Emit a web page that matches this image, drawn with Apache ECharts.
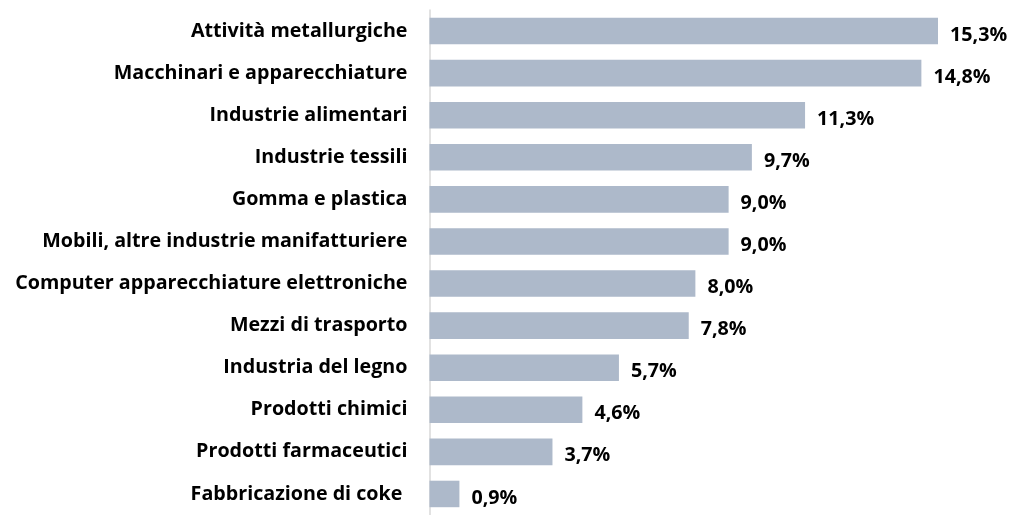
<!DOCTYPE html>
<html>
<head>
<meta charset="utf-8">
<script src="https://cdn.jsdelivr.net/npm/echarts@6/dist/echarts.min.js"></script>
<style>
  html, body { margin: 0; padding: 0; background: #fff; }
  #chart { width: 1012px; height: 515px; }
</style>
</head>
<body>
<div id="chart"></div>
<script>
// settori (dall'alto verso il basso)
var categories = [
  'Attività metallurgiche',
  'Macchinari e apparecchiature',
  'Industrie alimentari',
  'Industrie tessili',
  'Gomma e plastica',
  'Mobili, altre industrie manifatturiere',
  'Computer apparecchiature elettroniche',
  'Mezzi di trasporto',
  'Industria del legno',
  'Prodotti chimici',
  'Prodotti farmaceutici',
  'Fabbricazione di coke '
]
var values = [15.3, 14.8, 11.3, 9.7, 9.0, 9.0, 8.0, 7.8, 5.7, 4.6, 3.7, 0.9]

var chart = echarts.init(document.getElementById('chart'))
chart.setOption({
  animation: false,
  grid: { left: 429.5, right: 17.5, top: 10, bottom: -6, containLabel: false },
  xAxis: {
    type: 'value',
    min: 0,
    max: 17,
    show: false
  },
  yAxis: {
    type: 'category',
    inverse: true,
    data: categories,
    axisLine: { show: true, lineStyle: { color: '#d9d9d9', width: 1.5 } },
    axisTick: { show: false },
    axisLabel: {
      margin: 22,
      color: '#000',
      fontFamily: 'Open Sans',
      fontWeight: 'bold',
      fontSize: 19.7,
      padding: [2, 0, 0, 0]
    }
  },
  series: [{
    type: 'bar',
    data: values,
    barCategoryGap: '37%',
    itemStyle: { color: '#adb9ca' },
    label: {
      show: true,
      position: 'right',
      distance: 12,
      offset: [0, 4],
      color: '#000',
      fontFamily: 'Open Sans',
      fontWeight: 'bold',
      fontSize: 19.7,
      formatter: function (p) { return p.value.toFixed(1).replace('.', ',') + '%' }
    }
  }]
})
</script>
</body>
</html>
